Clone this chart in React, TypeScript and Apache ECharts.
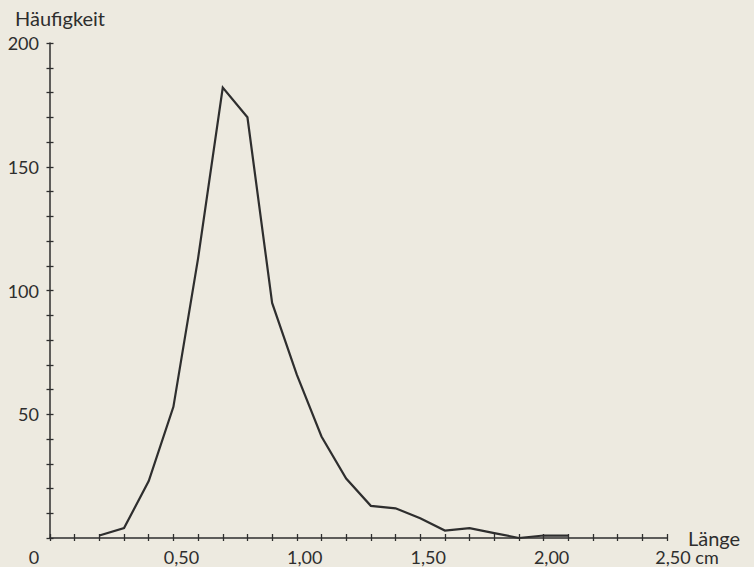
import React, { useEffect, useRef } from "react";
import * as echarts from "echarts";

const lengths = [0.2, 0.3, 0.4, 0.5, 0.6, 0.7, 0.8, 0.9, 1.0, 1.1, 1.2, 1.3, 1.4, 1.5, 1.6, 1.7, 1.8, 1.9, 2.0, 2.1];
const counts = [1, 4, 23, 53, 113, 182, 170, 95, 66, 41, 24, 13, 12, 8, 3, 4, 2, 0, 1, 1];
const xTickLabels: Record<string, string> = { "0": "0", "5": "0,50", "10": "1,00", "15": "1,50", "20": "2,00", "25": "2,50 cm" };
const yTickLabels = [50, 100, 150, 200];
const yName = "Häufigkeit";
const xName = "Länge";

const INK = "#2e2e2e";
const FONT = "Lato, 'Open Sans', sans-serif";

export default function App() {
  const ref = useRef<HTMLDivElement>(null);
  useEffect(() => {
    if (!ref.current) return;
    const chart = echarts.init(ref.current, null, { renderer: "svg" });
    const xBase = { type: "value" as const, min: 0, max: 2.5, interval: 0.1, splitLine: { show: false } };
    const yBase = { type: "value" as const, min: 0, max: 200, interval: 10, splitLine: { show: false } };
    const rich = (pad: number[]) => ({ fontFamily: FONT, fontSize: 18, lineHeight: 18, color: INK, padding: pad });
    chart.setOption({
      animation: false,
      backgroundColor: "#edeae0",
      grid: { left: 50, top: 43, width: 617, height: 495, containLabel: false, outerBoundsMode: "none" },
      xAxis: [
        {
          ...xBase,
          name: xName,
          nameLocation: "end",
          nameGap: 21,
          nameMoveOverlap: false,
          nameTextStyle: { fontFamily: FONT, fontSize: 20, lineHeight: 20, color: INK, verticalAlign: "middle", padding: [0, 0, 2, 0] },
          axisLine: { lineStyle: { color: INK, width: 1.5 } },
          axisTick: { show: true, length: 3, lineStyle: { color: INK, width: 1.3 } },
          axisLabel: {
            margin: 10,
            fontFamily: FONT,
            fontSize: 18,
            lineHeight: 18,
            color: INK,
            showMinLabel: true,
            showMaxLabel: true,
            formatter: (v: number) => {
              const k = String(Math.round(v * 10));
              const t = xTickLabels[k];
              if (t === undefined) return "";
              if (k === "0") return "{z|" + t + "}";
              if (k === "25") return "{l|" + t + "}";
              return "{a|" + t + "}";
            },
            rich: {
              a: rich([0, 0, 0, 16]),
              z: rich([0, 32, 0, 0]),
              l: rich([0, 0, 0, 40]),
            },
          },
        },
        {
          ...xBase,
          position: "bottom",
          axisLine: { show: false },
          axisTick: { show: true, inside: true, length: 4, lineStyle: { color: INK, width: 1.3 } },
          axisLabel: { show: false },
        },
      ],
      yAxis: [
        {
          ...yBase,
          name: yName,
          nameLocation: "end",
          nameGap: 25,
          nameMoveOverlap: false,
          nameTextStyle: { fontFamily: FONT, fontSize: 20, color: INK, align: "center", verticalAlign: "middle", padding: [0, 0, 0, 20] },
          axisLine: { show: true, lineStyle: { color: INK, width: 1.5 } },
          axisTick: { show: true, length: 3.5, lineStyle: { color: INK, width: 1.3 } },
          axisLabel: {
            margin: 11,
            fontFamily: FONT,
            fontSize: 18,
            color: INK,
            showMaxLabel: true,
            formatter: (v: number) => (yTickLabels.includes(Math.round(v)) ? String(Math.round(v)) : ""),
          },
        },
        {
          ...yBase,
          position: "left",
          axisLine: { show: false },
          axisTick: { show: true, inside: true, length: 3.5, lineStyle: { color: INK, width: 1.3 } },
          axisLabel: { show: false },
        },
      ],
      series: [
        {
          type: "line",
          xAxisIndex: 0,
          yAxisIndex: 0,
          data: lengths.map((x, i) => [x, counts[i]]),
          showSymbol: false,
          symbol: "none",
          lineStyle: { color: INK, width: 2.2, join: "miter" },
          clip: false,
        },
      ],
    });
    return () => chart.dispose();
  }, []);
  return (
    <div
      ref={ref}
      style={{ position: "absolute", left: 0, top: 0, width: 754, height: 567, background: "#edeae0" }}
    />
  );
}
